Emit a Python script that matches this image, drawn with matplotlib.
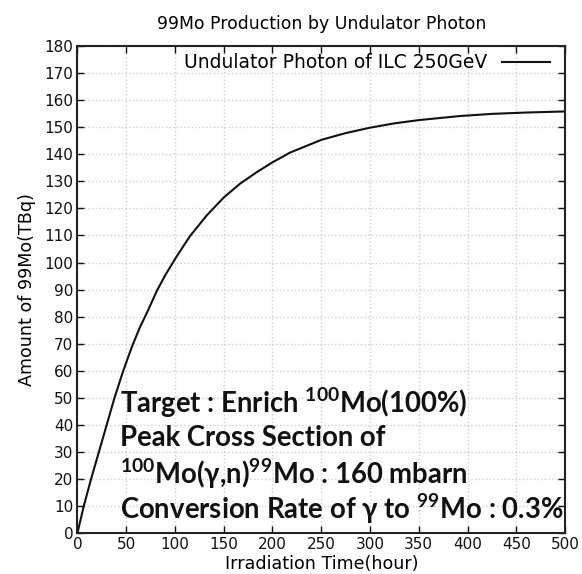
import matplotlib
matplotlib.use('Agg')
import matplotlib.pyplot as plt

# values
hours = [0, 6.5, 14, 22, 30, 38, 47, 56, 64, 72, 81.4, 90, 100.8, 115.5,
         132.6, 150, 166.7, 184, 200, 218, 250, 275, 300, 325, 350, 392,
         425, 460, 500]
amount = [0, 10, 20, 30, 40, 50, 60, 69, 76, 82, 89.5, 95.3, 101.7, 109.8,
          117.4, 124, 129.1, 133.4, 137.0, 140.6, 145.3, 147.8, 149.8, 151.4,
          152.6, 154.1, 154.9, 155.4, 155.8]

series_label = 'Undulator Photon of ILC 250GeV'
note_lines = [
    'Target : Enrich $^{100}$Mo(100%)',
    'Peak Cross Section of',
    '$^{100}$Mo(γ,n)$^{99}$Mo : 160 mbarn',
    'Conversion Rate of γ to $^{99}$Mo : 0.3%',
]

plt.rcParams['font.family'] = ['DejaVu Sans']
plt.rcParams['mathtext.fontset'] = 'custom'
plt.rcParams['mathtext.rm'] = 'Lato:bold'
plt.rcParams['mathtext.it'] = 'Lato:bold'
plt.rcParams['mathtext.bf'] = 'Lato:bold'

fig = plt.figure(figsize=(5.82, 5.74), dpi=100)
ax = fig.add_axes([0.133, 0.071, 0.838, 0.849])

ax.plot(hours, amount, color='#111111', linewidth=1.5, label=series_label)

ax.set_xlim(0, 500)
ax.set_ylim(0, 180)
ax.set_xticks(range(0, 501, 50))
ax.set_yticks(range(0, 181, 10))
ax.tick_params(direction='in', length=5, width=1, top=True, right=True,
               labelsize=11, colors='#111111', pad=3)
ax.grid(True, color='#cfcfcf', linestyle=':', linewidth=1.0)
for s in ax.spines.values():
    s.set_linewidth(1.5)
    s.set_color('#222222')

ax.set_title('99Mo Production by Undulator Photon', fontsize=12.4, pad=12)
ax.set_xlabel('Irradiation Time(hour)', fontsize=12.6, labelpad=2)
ax.set_ylabel('Amount of 99Mo(TBq)', fontsize=12.6, labelpad=6)

leg = ax.legend(loc='upper right', bbox_to_anchor=(0.985, 1.0), frameon=False,
                markerfirst=False, fontsize=13.5, handlelength=2.56,
                borderaxespad=0.3, borderpad=0.1, handletextpad=0.8)

y0 = 48.2
for i, line in enumerate(note_lines):
    ax.text(43.5, y0 - i * 13.1, line, fontsize=19.8, fontweight='bold',
            family=['Lato', 'DejaVu Sans'], va='center', ha='left', color='#111111')

fig.savefig('out.png', dpi=100)
